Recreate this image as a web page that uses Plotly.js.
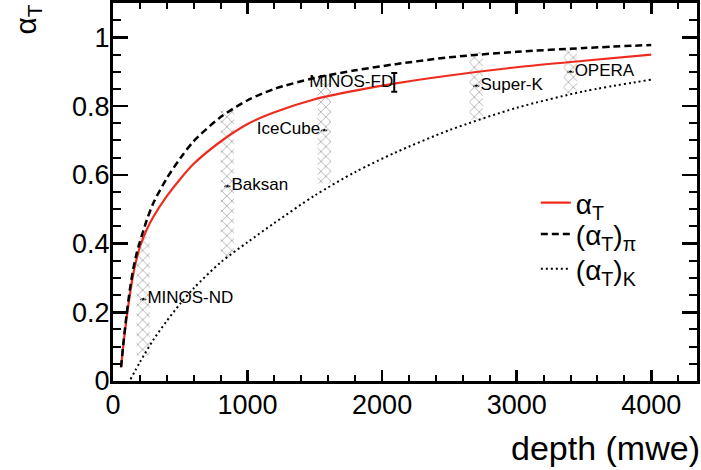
<!DOCTYPE html>
<html>
<head>
<meta charset="utf-8">
<script src="https://cdn.plot.ly/plotly-3.0.1.min.js"></script>
<style>html,body{margin:0;padding:0;background:#fff;}#chart{width:701px;height:470px;}</style>
</head>
<body>
<div id="chart"></div>
<script>
// ---- data ----
const curveDepth = [60, 80, 100, 125, 150, 175, 200, 250, 300, 400, 500, 600, 800, 1000, 1200, 1500, 1800, 2100, 2500, 3000, 3500, 4000];
const alphaT     = [0.04, 0.115, 0.18, 0.25, 0.31, 0.355, 0.39, 0.44, 0.478, 0.538, 0.588, 0.632, 0.697, 0.748, 0.782, 0.82, 0.845, 0.866, 0.889, 0.913, 0.932, 0.95];
const alphaPi    = [0.04, 0.12, 0.19, 0.265, 0.325, 0.37, 0.405, 0.467, 0.518, 0.59, 0.648, 0.698, 0.768, 0.817, 0.85, 0.882, 0.904, 0.922, 0.942, 0.958, 0.969, 0.978];
const kDepth     = [130, 200, 300, 400, 500, 600, 800, 1000, 1200, 1500, 1800, 2100, 2500, 3000, 3500, 4000];
const alphaK     = [0.005, 0.055, 0.12, 0.175, 0.225, 0.27, 0.345, 0.404, 0.46, 0.54, 0.608, 0.665, 0.73, 0.795, 0.843, 0.877];

const expNames  = ["MINOS-ND", "Baksan", "IceCube", "MINOS-FD", "Super-K", "OPERA"];
const expDepth  = [225, 850, 1570, 2090, 2700, 3400];
const expAlpha  = [0.238, 0.567, 0.73, 0.869, 0.859, 0.90];
const bandLow   = [0.074, 0.36, 0.575, null, 0.76, 0.837];
const bandHigh  = [0.419, 0.788, 0.876, null, 0.958, 0.968];
const expErr    = [0, 0, 0, 0.027, 0, 0];
const labelSide = ["middle right", "middle right", "middle left", "middle left", "middle right", "middle right"];

const legendNames = ["α<sub>T</sub>", "(α<sub>T</sub>)<sub>π</sub>", "(α<sub>T</sub>)<sub>K</sub>"];
const xTitle = "depth (mwe)";
const yTitle = "α<sub>T</sub>";

// ---- build traces ----
const FONT = "Liberation Sans, Arial, Helvetica, sans-serif";
const bx = [], bb = [], bh = [];
expDepth.forEach((d, i) => {
  if (bandLow[i] !== null) { bx.push(d); bb.push(bandLow[i]); bh.push(bandHigh[i] - bandLow[i]); }
});

const traces = [
  {
    type: "bar", x: bx, y: bh, base: bb, width: 100, showlegend: false, hoverinfo: "skip",
    marker: { color: "rgba(0,0,0,0)", line: { width: 0 },
      pattern: { shape: "x", fgcolor: "#a9a9a9", bgcolor: "rgba(0,0,0,0)", size: 7, solidity: 0.22 } }
  },
  {
    type: "scatter", mode: "lines", x: kDepth, y: alphaK, name: legendNames[2], legend: "legend3",
    line: { color: "#000", width: 2, dash: "2px,3px", shape: "spline", smoothing: 0.8 }
  },
  {
    type: "scatter", mode: "lines", x: curveDepth, y: alphaT, name: legendNames[0], legend: "legend",
    line: { color: "#ee2b1e", width: 2.2, shape: "spline", smoothing: 0.8 }
  },
  {
    type: "scatter", mode: "lines", x: curveDepth, y: alphaPi, name: legendNames[1], legend: "legend2",
    line: { color: "#000", width: 2.5, dash: "7px,4px", shape: "spline", smoothing: 0.8 }
  },
  {
    type: "scatter", mode: "markers+text", x: expDepth, y: expAlpha, text: expNames,
    textposition: labelSide, showlegend: false, cliponaxis: false,
    textfont: { family: FONT, size: 17, color: "#000" },
    marker: { symbol: "star", size: expErr.map(e => e > 0 ? 0.1 : 5), color: "#000" },
    error_y: { type: "data", array: expErr, visible: true, color: "#000", thickness: 2, width: 3 }
  }
];

const legendStyle = (y) => ({
  x: 0.724, y: y, xanchor: "left", yanchor: "top",
  bgcolor: "rgba(0,0,0,0)", borderwidth: 0,
  font: { family: FONT, size: 28, color: "#000" },
  tracegroupgap: 0, itemwidth: 30
});

const layout = {
  width: 701, height: 470,
  margin: { l: 113, r: 4, t: 3, b: 89 },
  paper_bgcolor: "#fff", plot_bgcolor: "#fff",
  font: { family: FONT, color: "#000" },
  barmode: "overlay",
  showlegend: true,
  legend: legendStyle(0.537),
  legend2: legendStyle(0.454),
  legend3: legendStyle(0.362),
  xaxis: {
    range: [0, 4340], showgrid: false, zeroline: false,
    showline: true, linecolor: "#000", linewidth: 3, mirror: "allticks",
    ticks: "inside", ticklen: 11, tickwidth: 2.5, tickcolor: "#000",
    tick0: 0, dtick: 1000, ticklabelstandoff: -2,
    minor: { dtick: 200, ticks: "inside", ticklen: 6, tickwidth: 2, tickcolor: "#000" },
    tickfont: { family: FONT, size: 27, color: "#000" }
  },
  yaxis: {
    range: [0, 1.1], showgrid: false, zeroline: false,
    showline: true, linecolor: "#000", linewidth: 3, mirror: "allticks",
    ticks: "inside", ticklen: 15, tickwidth: 2.5, tickcolor: "#000",
    tick0: 0, dtick: 0.2, ticklabelstandoff: -5,
    minor: { dtick: 0.05, ticks: "inside", ticklen: 8, tickwidth: 2, tickcolor: "#000" },
    tickfont: { family: FONT, size: 27, color: "#000" }
  },
  annotations: [
    { text: xTitle, xref: "paper", yref: "paper", x: 1.008, y: -0.176, xanchor: "right", yanchor: "middle",
      showarrow: false, font: { family: FONT, size: 34, color: "#000" } },
    { text: yTitle, xref: "paper", yref: "paper", x: -0.148, y: 1.0, xanchor: "center", yanchor: "top",
      textangle: -90, showarrow: false, font: { family: FONT, size: 30, color: "#000" } }
  ]
};

Plotly.newPlot("chart", traces, layout, { displayModeBar: false, staticPlot: true });
</script>
</body>
</html>
